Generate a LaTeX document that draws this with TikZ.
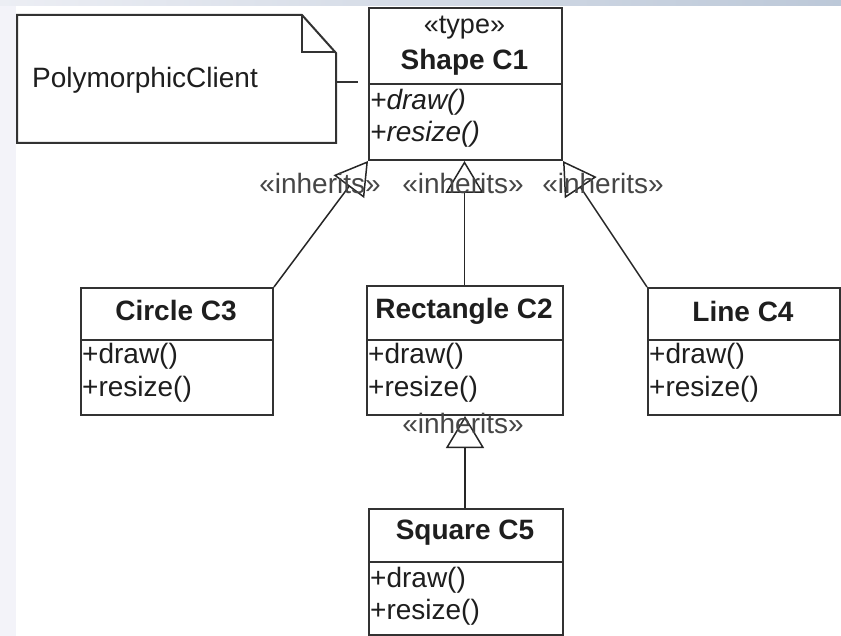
\documentclass[tikz,border=0pt]{standalone}
\usepackage{fontspec}
\setmainfont{Liberation Sans}
\usetikzlibrary{arrows.meta}
\definecolor{boxc}{RGB}{50,50,50}
\definecolor{txt}{RGB}{30,30,30}
\definecolor{lblc}{RGB}{70,70,70}
\definecolor{bgleft}{RGB}{243,243,249}
\definecolor{bgtopl}{RGB}{236,238,244}
\definecolor{bgtopr}{RGB}{188,200,216}
\begin{document}
\begin{tikzpicture}[x=1pt,y=-1pt,
  box/.style={draw=boxc, line width=2pt, fill=white, rectangle, inner sep=0pt, anchor=north west},
  divider/.style={draw=boxc, line width=2pt},
  ttl/.style={font=\fontsize{28}{32}\selectfont\bfseries, text=txt, inner sep=0pt},
  stereo/.style={font=\fontsize{27}{32}\selectfont, text=txt, inner sep=0pt},
  meth/.style={font=\fontsize{28}{32}\selectfont, text=txt, anchor=west, inner sep=0pt},
  lbl/.style={font=\fontsize{28}{32}\selectfont, text=lblc, inner sep=0pt},
  inh/.style={line width=1.5pt, draw=black!85, -{Triangle[open, length=32pt, width=38pt, line width=1.5pt]}},
  notebox/.style={draw=boxc, line width=2pt, fill=white},
]
\useasboundingbox (0,0) rectangle (841,636);
% background
\fill[bgleft] (0,0) rectangle (841,636);
\shade[left color=bgtopl, right color=bgtopr] (0,0) rectangle (841,6);
\fill[white] (16,6) rectangle (841,636);

% note
\draw[notebox] (17,15) -- (302,15) -- (336,53) -- (336,143) -- (17,143) -- cycle;
\draw[divider] (302,15) -- (302,52) -- (336,52);
\node[meth] (notetext) at (32,80) {PolymorphicClient};
\coordinate (noteR) at (336,82);
\coordinate (noteEnd) at (358,82);
\draw[line width=1.5pt, draw=boxc] (noteR) -- (noteEnd);

% Shape C1
\node[box, minimum width=193pt, minimum height=152pt] (shape) at (368,7) {};
\draw[divider] (368,84) -- (561,84);
\node[stereo] (shapeST) at (464.5,28) {«type»};
\node[ttl] (shapeT) at (464.5,62) {Shape C1};
\node[meth] (shapeM1) at (370,102) {\itshape +draw()};
\node[meth] (shapeM2) at (370,134) {\itshape +resize()};

% Circle C3
\node[box, minimum width=192pt, minimum height=127pt] (circ) at (80,287) {};
\draw[divider] (80,340) -- (272,340);
\node[ttl] (circT) at (176,311) {Circle C3};
\node[meth] (circM1) at (82,356) {+draw()};
\node[meth] (circM2) at (82,389) {+resize()};

% Rectangle C2
\node[box, minimum width=196pt, minimum height=129pt] (rect) at (366,285) {};
\draw[divider] (366,340) -- (562,340);
\node[ttl] (rectT) at (464,311) {Rectangle C2};
\node[meth] (rectM1) at (368,356) {+draw()};
\node[meth] (rectM2) at (368,389) {+resize()};

% Line C4
\node[box, minimum width=192pt, minimum height=127pt] (line) at (647,287) {};
\draw[divider] (647,340) -- (839,340);
\node[ttl] (lineT) at (743,311) {Line C4};
\node[meth] (lineM1) at (649,356) {+draw()};
\node[meth] (lineM2) at (649,389) {+resize()};

% Square C5
\node[box, minimum width=194pt, minimum height=126pt] (sq) at (368,508) {};
\draw[divider] (368,562) -- (562,562);
\node[ttl] (sqT) at (465,533) {Square C5};
\node[meth] (sqM1) at (370,580) {+draw()};
\node[meth] (sqM2) at (370,612) {+resize()};

% inheritance connectors
\draw[inh] (circ.north east) -- (shape.south west);
\draw[inh] (rect.north -| shapeT) -- (shape.south -| shapeT);
\draw[inh] (line.north west) -- (shape.south east);
\draw[inh] (sq.north -| sqT) -- (rect.south -| sqT);

% labels
\node[lbl] (l1) at (320,183) {«inherits»};
\node[lbl] (l2) at (463,183) {«inherits»};
\node[lbl] (l3) at (603,183) {«inherits»};
\node[lbl] (l4) at (463,423) {«inherits»};
\end{tikzpicture}
\end{document}
